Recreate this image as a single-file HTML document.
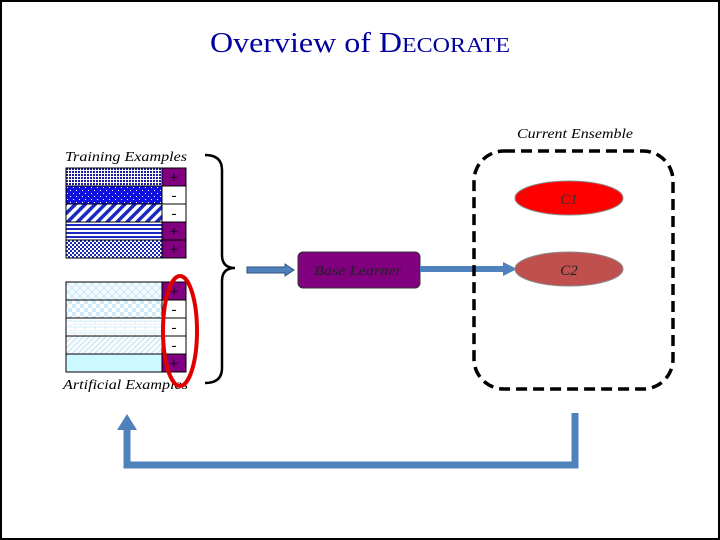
<!DOCTYPE html>
<html><head><style>
html,body{margin:0;padding:0;background:#fff}
svg{display:block}
text{font-family:"Liberation Serif",serif}
</style></head><body>
<svg width="720" height="540" viewBox="0 0 720 540" xmlns="http://www.w3.org/2000/svg">
<defs>
<pattern id="p1" width="3" height="3" patternUnits="userSpaceOnUse"><rect width="3" height="3" fill="#fff"/><rect width="2" height="2" fill="#1a1aa0"/></pattern>
<pattern id="p2" width="6" height="6" patternUnits="userSpaceOnUse"><rect width="6" height="6" fill="#1010e0"/><rect x="1" y="1" width="1" height="1" fill="#fff"/><rect x="4" y="4" width="1" height="1" fill="#fff"/></pattern>
<pattern id="p3" width="7" height="7" patternUnits="userSpaceOnUse" patternTransform="rotate(45)"><rect width="7" height="7" fill="#fff"/><rect width="3.5" height="7" fill="#1a2ac0"/></pattern>
<pattern id="p4" width="4" height="4" patternUnits="userSpaceOnUse"><rect width="4" height="4" fill="#fff"/><rect width="4" height="2" fill="#1a2ac0"/></pattern>
<pattern id="p5" width="4" height="4" patternUnits="userSpaceOnUse"><rect width="4" height="4" fill="#fff"/><rect width="2" height="2" fill="#1a2ab0"/><rect x="2" y="2" width="2" height="2" fill="#1a2ab0"/></pattern>
<pattern id="a1" width="8" height="8" patternUnits="userSpaceOnUse"><rect width="8" height="8" fill="#f2fbff"/><path d="M0 0L8 8M8 0L0 8" stroke="#cde8f5" stroke-width="1"/></pattern>
<pattern id="a2" width="8" height="8" patternUnits="userSpaceOnUse"><rect width="8" height="8" fill="#fff"/><rect width="4" height="4" fill="#cfe9fa"/><rect x="4" y="4" width="4" height="4" fill="#cfe9fa"/></pattern>
<pattern id="a3" width="10" height="6" patternUnits="userSpaceOnUse"><rect width="10" height="6" fill="#fff"/><path d="M0 0H10M0 3H10M0 0V3M5 3V6" stroke="#d6ecf7"/></pattern>
<pattern id="a4" width="4" height="4" patternUnits="userSpaceOnUse" patternTransform="rotate(45)"><rect width="4" height="4" fill="#fff"/><rect width="2" height="4" fill="#d6ecf7"/></pattern>
</defs>
<rect x="1" y="1" width="718" height="538" fill="#fff" stroke="#000" stroke-width="2"/>
<text x="210" y="52" font-size="28" fill="#0000a0" textLength="300" lengthAdjust="spacingAndGlyphs">Overview of D<tspan font-size="21">ECORATE</tspan></text>
<text x="65" y="161" font-size="14" font-style="italic" textLength="122" lengthAdjust="spacingAndGlyphs">Training Examples</text>
<text x="63" y="389" font-size="14" font-style="italic" textLength="125" lengthAdjust="spacingAndGlyphs">Artificial Examples</text>
<text x="517" y="138" font-size="14" font-style="italic" textLength="116" lengthAdjust="spacingAndGlyphs">Current Ensemble</text>
<g stroke="#000" stroke-width="1">
<rect x="66" y="168" width="96" height="18" fill="url(#p1)"/>
<rect x="66" y="186" width="96" height="18" fill="url(#p2)"/>
<rect x="66" y="204" width="96" height="18" fill="url(#p3)"/>
<rect x="66" y="222" width="96" height="18" fill="url(#p4)"/>
<rect x="66" y="240" width="96" height="18" fill="url(#p5)"/>
<rect x="162" y="168" width="24" height="18" fill="#800080"/>
<rect x="162" y="186" width="24" height="18" fill="#fff"/>
<rect x="162" y="204" width="24" height="18" fill="#fff"/>
<rect x="162" y="222" width="24" height="18" fill="#800080"/>
<rect x="162" y="240" width="24" height="18" fill="#800080"/>
<rect x="66" y="282" width="96" height="18" fill="url(#a1)"/>
<rect x="66" y="300" width="96" height="18" fill="url(#a2)"/>
<rect x="66" y="318" width="96" height="18" fill="url(#a3)"/>
<rect x="66" y="336" width="96" height="18" fill="url(#a4)"/>
<rect x="66" y="354" width="96" height="18" fill="#ccf8ff"/>
<rect x="162" y="282" width="24" height="18" fill="#800080"/>
<rect x="162" y="300" width="24" height="18" fill="#fff"/>
<rect x="162" y="318" width="24" height="18" fill="#fff"/>
<rect x="162" y="336" width="24" height="18" fill="#fff"/>
<rect x="162" y="354" width="24" height="18" fill="#800080"/>
</g>
<g font-size="15" text-anchor="middle">
<text x="174" y="182">+</text><text x="174" y="200">-</text><text x="174" y="218">-</text><text x="174" y="236">+</text><text x="174" y="254">+</text>
<text x="174" y="296">+</text><text x="174" y="314">-</text><text x="174" y="332">-</text><text x="174" y="350">-</text><text x="174" y="368">+</text>
</g>
<ellipse cx="180" cy="331" rx="17" ry="55" fill="none" stroke="#e00000" stroke-width="4"/>
<path d="M205 155 Q222 155 222 170 L222 255 Q222 268 235 268 Q222 268 222 281 L222 368 Q222 383 205 383" fill="none" stroke="#000" stroke-width="2.5"/>
<path d="M247 267 H285 V264 L294 270 L285 276 V273 H247 Z" fill="#4f81bd" stroke="#2f4f7f" stroke-width="1"/>
<rect x="298" y="252" width="122" height="36" rx="5" fill="#800080" stroke="#333"/>
<text x="314" y="275" font-size="14" font-style="italic" fill="#222" textLength="88" lengthAdjust="spacingAndGlyphs">Base Learner</text>
<path d="M420 266 H503 V262 L517 269 L503 276 V272 H420 Z" fill="#4f81bd"/>
<rect x="474" y="151" width="199" height="238" rx="30" fill="none" stroke="#000" stroke-width="3.5" stroke-dasharray="11,6"/>
<ellipse cx="569" cy="198" rx="54" ry="17" fill="#ff0000" stroke="#888"/>
<text x="569" y="204" font-size="15" font-style="italic" text-anchor="middle" fill="#333">C1</text>
<ellipse cx="569" cy="269" rx="54" ry="17" fill="#c0504d" stroke="#888"/>
<text x="569" y="275" font-size="15" font-style="italic" text-anchor="middle" fill="#222">C2</text>
<path d="M575 413 V465 H127 V428" fill="none" stroke="#4f81bd" stroke-width="7"/>
<path d="M117 430 L127 414 L137 430 Z" fill="#4f81bd"/>
</svg>
</body></html>
